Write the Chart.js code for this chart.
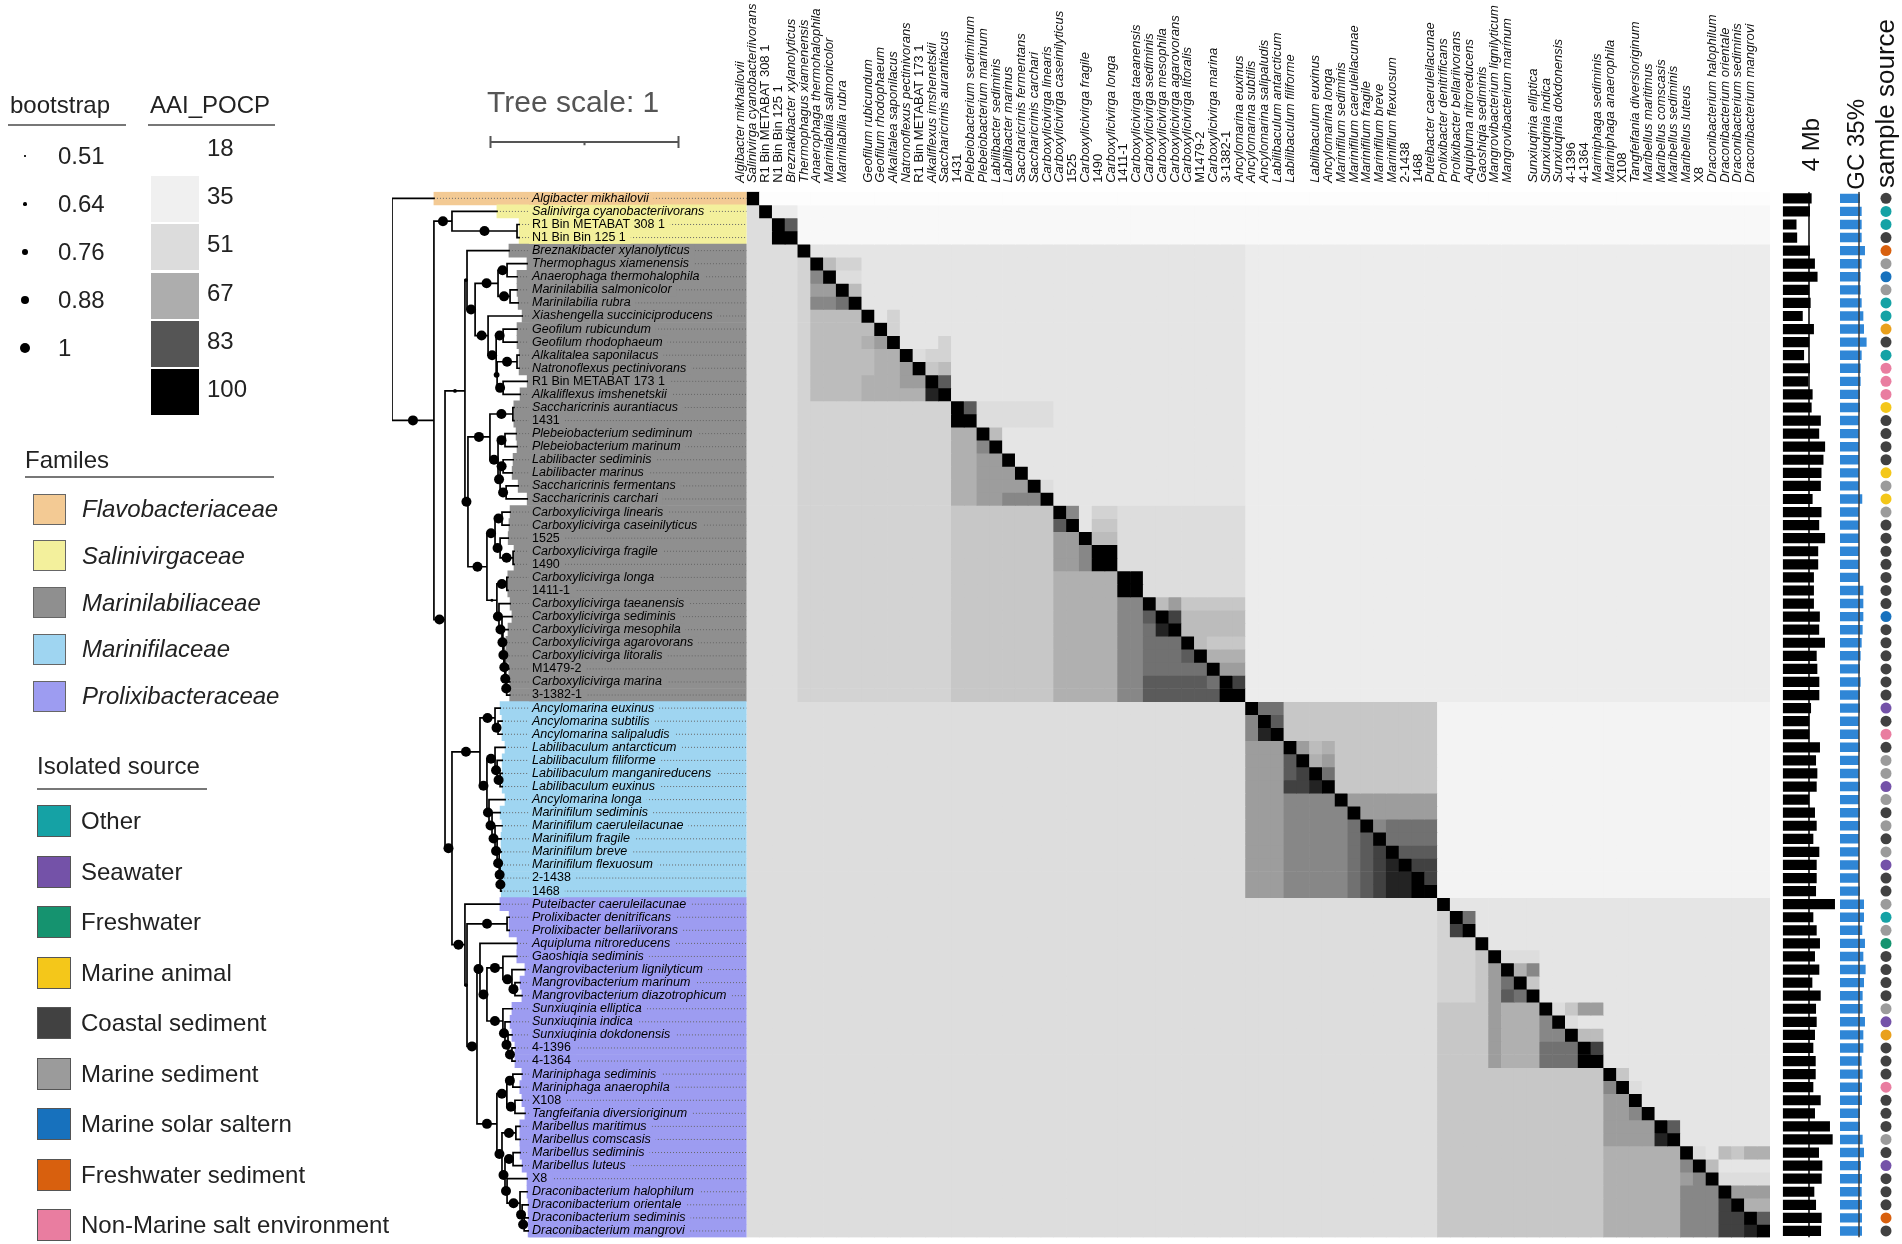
<!DOCTYPE html>
<html>
<head>
<meta charset="utf-8">
<script src="https://cdn.jsdelivr.net/npm/chart.js@4.4.1/dist/chart.umd.min.js"></script>
<style>
  body { margin: 0; background: #fff; font-family: "Liberation Sans", Arial, sans-serif; }
  #fig { position: relative; width: 1902px; height: 1244px; overflow: hidden; background: #fff; }
  #fig canvas { position: absolute; left: 0; top: 0; }
  .t { position: absolute; white-space: nowrap; color: #222; }
  .v { position: absolute; white-space: nowrap; color: #111; writing-mode: vertical-rl; transform: rotate(180deg); }
  .b { position: absolute; box-sizing: border-box; }
</style>
</head>
<body>
<div id="fig">
  <canvas id="boxes" width="1902" height="1244"></canvas>
  <canvas id="tree" width="1902" height="1244"></canvas>
  <canvas id="heat" width="1902" height="1244"></canvas>
  <canvas id="genome" width="1902" height="1244"></canvas>
  <canvas id="gc" width="1902" height="1244"></canvas>
  <canvas id="source" width="1902" height="1244"></canvas>
</div>
<script>
// ---- data ----
const species = [
  "Algibacter mikhailovii", "Salinivirga cyanobacteriivorans", "R1 Bin METABAT 308 1", "N1 Bin Bin 125 1",
  "Breznakibacter xylanolyticus", "Thermophagus xiamenensis", "Anaerophaga thermohalophila", "Marinilabilia salmonicolor",
  "Marinilabilia rubra", "Xiashengella succiniciproducens", "Geofilum rubicundum", "Geofilum rhodophaeum",
  "Alkalitalea saponilacus", "Natronoflexus pectinivorans", "R1 Bin METABAT 173 1", "Alkaliflexus imshenetskii",
  "Saccharicrinis aurantiacus", "1431", "Plebeiobacterium sediminum", "Plebeiobacterium marinum",
  "Labilibacter sediminis", "Labilibacter marinus", "Saccharicrinis fermentans", "Saccharicrinis carchari",
  "Carboxylicivirga linearis", "Carboxylicivirga caseinilyticus", "1525", "Carboxylicivirga fragile",
  "1490", "Carboxylicivirga longa", "1411-1", "Carboxylicivirga taeanensis",
  "Carboxylicivirga sediminis", "Carboxylicivirga mesophila", "Carboxylicivirga agarovorans", "Carboxylicivirga litoralis",
  "M1479-2", "Carboxylicivirga marina", "3-1382-1", "Ancylomarina euxinus",
  "Ancylomarina subtilis", "Ancylomarina salipaludis", "Labilibaculum antarcticum", "Labilibaculum filiforme",
  "Labilibaculum manganireducens", "Labilibaculum euxinus", "Ancylomarina longa", "Marinifilum sediminis",
  "Marinifilum caeruleilacunae", "Marinifilum fragile", "Marinifilum breve", "Marinifilum flexuosum",
  "2-1438", "1468", "Puteibacter caeruleilacunae", "Prolixibacter denitrificans",
  "Prolixibacter bellariivorans", "Aquipluma nitroreducens", "Gaoshiqia sediminis", "Mangrovibacterium lignilyticum",
  "Mangrovibacterium marinum", "Mangrovibacterium diazotrophicum", "Sunxiuqinia elliptica", "Sunxiuqinia indica",
  "Sunxiuqinia dokdonensis", "4-1396", "4-1364", "Mariniphaga sediminis",
  "Mariniphaga anaerophila", "X108", "Tangfeifania diversioriginum", "Maribellus maritimus",
  "Maribellus comscasis", "Maribellus sediminis", "Maribellus luteus", "X8",
  "Draconibacterium halophilum", "Draconibacterium orientale", "Draconibacterium sediminis", "Draconibacterium mangrovi"
];
// column labels that are left blank at the top of the matrix
const hiddenTopLabels = [9, 44, 61];

const familyNames = ["Flavobacteriaceae", "Salinivirgaceae", "Marinilabiliaceae", "Marinifilaceae", "Prolixibacteraceae"];
const familyColors = ["#f3ca94", "#f3f09c", "#8f8f8f", "#9fd5f1", "#9d9cf1"];
const familySizes = [1, 3, 35, 15, 26];

const sourceNames = ["Other", "Seawater", "Freshwater", "Marine animal", "Coastal sediment",
  "Marine sediment", "Marine solar saltern", "Freshwater sediment", "Non-Marine salt environment"];
const sourceColors = ["#15a2a5", "#7452a8", "#15936f", "#f4c71a", "#414141",
  "#9b9b9b", "#1771bd", "#d8600e", "#e97da0", "#e9a01c"];
const sampleSource = [
  4, 0, 0, 4, 7, 5, 6, 5, 0, 0,  9, 4, 0, 8, 8, 8, 3, 4, 4, 4,
  4, 3, 5, 3, 5, 4, 4, 4, 4, 4,  4, 4, 6, 4, 4, 4, 4, 4, 4, 1,
  4, 8, 4, 5, 5, 1, 5, 4, 5, 4,  5, 1, 4, 4, 5, 0, 5, 2, 4, 4,
  4, 4, 5, 1, 9, 4, 4, 4, 8, 4,  4, 4, 5, 4, 1, 4, 4, 4, 7, 4
];

const genomeMb = [
  4.4, 4.15, 2.1, 2.2, 4.15, 4.9, 5.3, 4.05, 4.25, 3.05,  4.75, 4.05, 3.25, 4.15, 3.9, 4.55, 4.4, 5.8, 5.55, 6.45,
  6.2, 5.9, 5.8, 4.55, 5.9, 5.55, 6.45, 5.4, 5.4, 4.75,  4.75, 4.75, 5.65, 5.55, 6.43, 5.17, 5.27, 5.57, 5.57, 4.31,
  4.05, 4.05, 5.67, 5.07, 5.27, 5.17, 4.05, 4.91, 5.17, 4.66,  5.57, 5.17, 5.17, 5.07, 7.95, 4.66, 5.17, 5.67, 4.91, 5.57,
  4.51, 5.78, 5.07, 5.17, 4.91, 4.66, 5.02, 5.02, 4.66, 5.78,  4.91, 7.19, 7.6, 5.52, 6.03, 5.93, 4.81, 5.07, 5.93, 5.83
];
const genomeRef = 4;

const gcPercent = [
  36.8, 39.9, 39.9, 39.9, 46, 39.9, 38, 38, 39.9, 43,  44.2, 49, 39.9, 38, 38, 36.8, 36.8, 35, 35, 35,
  35, 35, 35, 41, 35, 35, 35, 35, 35, 35,  43, 43, 43, 41.7, 39.9, 38, 36.8, 38, 36.8, 36.8,
  35, 35, 36.8, 35, 35, 36.8, 35, 36.8, 36.8, 35,  35, 35, 35, 36.8, 44.2, 44.2, 41, 46, 43, 47.2,
  44.2, 41.7, 41.7, 46, 43, 43, 39.9, 41.7, 40.5, 40.5,  36.8, 36.8, 41.7, 44.2, 38.6, 40.5, 39.9, 40.5, 40.5, 40.5
];
const gcRef = 35;

const bootstrapKeys = [0.51, 0.64, 0.76, 0.88, 1];
const aaiKeys = [18, 35, 51, 67, 83, 100];
const aaiGreys = [255, 240, 220, 173, 85, 0];

// AAI / POCP matrix, run-length coded per row: letter = level, number = cells
const levelKeys = "abcdefghijklmnopq";
const levelValues = [20, 26, 32, 38, 44, 50, 54, 58, 62, 66, 70, 74, 78, 82, 87, 93, 100];
const heatRows = [
  "q1 a79", "f1 q1 d2 b76", "f2 q1 n1 b76", "f2 q2 b76",
  "f4 q1 e34 d41", "f4 g1 q1 i1 g2 e30 d41", "f4 g1 l1 q1 f2 e30 d41", "f4 g1 k2 q1 i1 e30 d41",
  "f4 g1 l2 m1 q1 e30 d41", "f4 g1 i4 q1 e1 g1 e27 d41", "f4 g1 i5 q1 g1 e27 d41", "f4 g1 i4 j1 k1 q1 e3 g1 e23 d41",
  "f4 g1 i5 j2 q1 f1 g2 e23 d41", "f4 g1 i5 j2 k1 q1 h1 i1 e23 d41", "f4 g1 i4 j3 k2 q1 n1 e23 d41", "f4 g1 i4 j5 p1 q1 e23 d41",
  "f4 g12 q1 n1 f6 e15 d41", "f4 g12 q2 f6 e15 d41", "f4 g12 j2 q1 i1 e19 d41", "f4 g12 j2 l1 q1 e19 d41",
  "f4 g12 j2 k2 q1 e18 d41", "f4 g12 j2 k3 q1 e17 d41", "f4 g12 j2 k4 q1 f1 e15 d41", "f4 g12 j2 k2 l3 q1 e15 d41",
  "f4 g12 h8 q1 l1 e1 g2 f10 d41", "f4 g12 h8 n1 q1 e1 h2 f10 d41", "f4 g12 h8 k2 q1 i2 f10 d41", "f4 g12 h8 k2 l1 q2 f10 d41",
  "f4 g12 h8 k2 l1 q2 f10 d41", "f4 g12 h8 j5 q2 f8 d41", "f4 g12 h8 j5 q2 f8 d41", "f4 g12 h8 j5 l2 q1 i1 k1 h5 d41",
  "f4 g12 h8 j5 l2 n1 q1 o1 i5 d41", "f4 g12 h8 j5 l2 m1 p1 q1 i5 d41", "f4 g12 h8 j5 l2 m3 q1 i1 h3 d41", "f4 g12 h8 j5 l2 m3 n1 q1 j3 d41",
  "f4 g12 h8 j5 l2 m5 q1 k2 d41", "f4 g12 h8 j5 l2 n5 m1 q1 o1 d41", "f4 g12 h8 j5 l2 n6 q2 d41",
  "f39 q1 m2 h12 c26", "f39 l1 q1 n1 h12 c26", "f39 l1 p1 q1 h12 c26", "f39 k3 q1 k1 i1 j1 h8 c26",
  "f39 k3 n1 q1 j1 k1 h8 c26", "f39 k3 n1 o1 q1 m1 h8 c26", "f39 k3 o2 p1 q1 h8 c26", "f39 k3 l4 q1 k7 c26",
  "f39 k3 l5 q1 k6 c26", "f39 k3 l5 m1 q1 l1 m4 c26", "f39 k3 l5 m1 n1 q1 m4 c26", "f39 k3 l5 m1 n1 o1 q1 n3 c26",
  "f39 k3 l5 m1 n1 o1 p1 q1 o2 c26", "f39 k3 l5 m1 n1 o1 p2 q1 o1 c26", "f39 k3 l5 m1 n1 o1 p2 q2 c26",
  "f54 q1 e25", "f54 g1 q1 m1 e23", "f54 g1 o1 q1 e23", "f54 g3 q1 e22",
  "f54 g3 h1 q1 f3 e18", "f54 g3 h1 k1 q1 j1 l1 e18", "f54 g3 h1 k1 m1 q1 h1 e18", "f54 g3 h1 k1 n1 m1 q1 e18",
  "f54 h4 k1 j3 q1 f1 h1 k2 e13", "f54 h4 k1 j3 l1 q1 f1 e15", "f54 h4 k1 j3 l2 q1 i2 e13", "f54 h4 k1 j3 m3 q1 o1 e13",
  "f54 h4 k1 j3 m3 q2 e13", "f54 h13 q1 h1 e11", "f54 h13 l1 q1 f1 e10", "f54 h13 k2 q1 e10",
  "f54 h13 k2 l1 q1 e9", "f54 h13 k4 q1 n1 e7", "f54 h13 k4 p1 q1 e7", "f54 h13 j6 q1 f1 e1 i1 h1 j2",
  "f54 h13 j6 l1 q1 i1 e4", "f54 h13 j6 k1 l1 q1 f4", "f54 h13 j6 l3 q1 k3", "f54 h13 j6 l3 o1 q1 j2",
  "f54 h13 j6 l3 o2 q1 n1", "f54 h13 j6 l3 o2 p1 q1"
];

// tree: internal nodes [name, parent, branch length, bootstrap]; root is "R"
const internalNodes = [
  ["M", "R", 0.223, 1], ["S", "M", 0.096, 1], ["SB", "S", 0.346, 1], ["B", "M", 0.059, 1],
  ["ML", "B", 0.106, 0.64], ["ML1", "ML", 0.011, 0.64], ["ML1b", "ML1", 0.043, 1], ["TM", "ML1b", 0.122, 1],
  ["TA", "TM", 0.048, 1], ["MM", "TM", 0.064, 1], ["XG", "ML1b", 0.069, 1], ["XGb", "XG", 0.043, 1],
  ["GG", "XGb", 0.037, 1], ["AN", "XGb", 0.005, 0.76], ["AN1", "AN", 0.106, 1], ["AN2", "AN", 0.032, 1],
  ["ML2", "ML", 0.016, 1], ["SP", "ML2", 0.117, 1], ["SA", "SP", 0.122, 1], ["PL", "SP", 0.043, 1],
  ["PP", "PL", 0.037, 1], ["LS", "PL", 0.011, 1], ["LL", "LS", 0.016, 1], ["SS", "LS", 0.032, 1],
  ["CB", "ML2", 0.101, 1], ["CB1", "CB", 0.043, 1], ["CL", "CB1", 0.037, 1], ["CF", "CB1", 0.027, 1],
  ["FF", "CF", 0.069, 1], ["CB2", "CB", 0.053, 0.6], ["LO", "CB2", 0.053, 1], ["CT", "CB2", 0.011, 1],
  ["CT2", "CT", 0.016, 1], ["CT3", "CT2", 0.005, 1], ["CT4", "CT3", 0.005, 1], ["CT5", "CT4", 0.005, 1],
  ["CT6", "CT5", 0.005, 1], ["CT7", "CT6", 0.005, 1],
  ["C", "B", 0.037, 1], ["MF", "C", 0.149, 1], ["AG", "MF", 0.080, 1], ["AS", "AG", 0.016, 1],
  ["LM", "MF", 0.037, 1], ["LB", "LM", 0.043, 1], ["LB2", "LB", 0.011, 1], ["LB3", "LB2", 0.016, 1],
  ["MR", "LM", 0.011, 1], ["MR2", "MR", 0.016, 1], ["MR3", "MR2", 0.016, 1], ["MR4", "MR3", 0.011, 1],
  ["MR5", "MR4", 0.011, 1], ["MR6", "MR5", 0.005, 1], ["MR7", "MR6", 0.003, 1],
  ["PX", "C", 0.069, 1], ["PX2", "PX", 0.011, 0.64], ["PR", "PX2", 0.213, 1], ["PX3", "PX2", 0.053, 1],
  ["PX4", "PX3", 0.016, 1], ["GM", "PX4", 0.037, 1], ["GSM", "GM", 0.085, 1], ["MG", "GSM", 0.048, 1],
  ["MG2", "MG", 0.016, 1], ["SUN", "GM", 0.085, 1], ["SUN2", "SUN", 0.011, 1], ["SUN3", "SUN2", 0.016, 1],
  ["SUN4", "SUN3", 0.021, 1], ["PX5", "PX3", 0.106, 1], ["MP", "PX5", 0.053, 1], ["MP1", "MP", 0.032, 1],
  ["MP2", "MP", 0.043, 1], ["MB", "PX5", 0.027, 1], ["MB1", "MB", 0.074, 1], ["MB2", "MB", 0.016, 1],
  ["MB3", "MB2", 0.043, 1], ["MB4", "MB2", 0.011, 1], ["DR", "MB4", 0.069, 1], ["DR2", "DR", 0.011, 1],
  ["DR3", "DR2", 0.011, 1]
];
const leafParent = [
  "R", "S", "SB", "SB", "ML1", "TA", "TA", "MM", "MM", "XG",
  "GG", "GG", "AN1", "AN1", "AN2", "AN2", "SA", "SA", "PP", "PP",
  "LL", "LL", "SS", "SS", "CL", "CL", "CF", "FF", "FF", "LO",
  "LO", "CT", "CT2", "CT3", "CT4", "CT5", "CT6", "CT7", "CT7", "AG",
  "AS", "AS", "LB", "LB2", "LB3", "LB3", "MR", "MR2", "MR3", "MR4",
  "MR5", "MR6", "MR7", "MR7", "PX", "PR", "PR", "PX4", "GSM", "MG",
  "MG2", "MG2", "SUN", "SUN2", "SUN3", "SUN4", "SUN4", "MP1", "MP1", "MP2",
  "MP2", "MB1", "MB1", "MB3", "MB3", "MB4", "DR", "DR2", "DR3", "DR3"
];
const leafLength = [
  0.223, 0.239, 0.011, 0.011, 0.223, 0.106, 0.053, 0.037, 0.043, 0.181,
  0.074, 0.074, 0.011, 0.011, 0.128, 0.090, 0.005, 0.005, 0.059, 0.064,
  0.053, 0.048, 0.064, 0.112, 0.043, 0.037, 0.043, 0.005, 0.005, 0.005,
  0.005, 0.059, 0.053, 0.027, 0.011, 0.005, 0.016, 0.016, 0.016, 0.027,
  0.021, 0.021, 0.053, 0.027, 0.011, 0.011, 0.085, 0.043, 0.037, 0.021,
  0.011, 0.005, 0.003, 0.003, 0.186, 0.011, 0.011, 0.197, 0.074, 0.069,
  0.027, 0.037, 0.048, 0.027, 0.021, 0.016, 0.016, 0.048, 0.037, 0.037,
  0.053, 0.021, 0.021, 0.037, 0.048, 0.106, 0.037, 0.032, 0.021, 0.021
];
const treeScale = 1;

// ---- layout (page pixels) ----
const W = 1902, H = 1244;
const PX = { heatLeft: 746.7, heatRight: 1770, top: 191.8, bottom: 1237.5, treeRoot: 392, unit: 188, labelX: 532 };
const treeMax = (PX.heatLeft - PX.treeRoot) / PX.unit;
const FONT = "Liberation Sans";

const isSpecies = i => !/\d/.test(species[i]);
const dotRadius = s => 0.75 + (s - 0.51) * 8.67;

function grey(v) {
  for (let k = 1; k < aaiKeys.length; k++) {
    if (v <= aaiKeys[k]) {
      const t = (v - aaiKeys[k - 1]) / (aaiKeys[k] - aaiKeys[k - 1]);
      const g = Math.round(aaiGreys[k - 1] + t * (aaiGreys[k] - aaiGreys[k - 1]));
      return `rgb(${g},${g},${g})`;
    }
  }
  return "rgb(0,0,0)";
}

const matrix = heatRows.map((row, r) => {
  const out = [];
  row.trim().split(/\s+/).forEach(tok => {
    const v = levelValues[levelKeys.indexOf(tok[0])];
    for (let n = +tok.slice(1); n > 0; n--) out.push(v);
  });
  if (out.length !== species.length) console.warn("row", r, "has", out.length, "cells");
  return out;
});

const rowFamily = [];
familySizes.forEach((n, f) => { for (let k = 0; k < n; k++) rowFamily.push(f); });

// tree layout
const xOf = { R: 0 };
internalNodes.forEach(([n, p, len]) => { xOf[n] = xOf[p] + len; });
const leafX = leafParent.map((p, i) => xOf[p] + leafLength[i]);
const children = {};
const addChild = (p, c) => (children[p] = children[p] || []).push(c);
leafParent.forEach((p, i) => addChild(p, { leaf: i }));
internalNodes.forEach(([n, p]) => addChild(p, { node: n }));
const yOf = {};
function layoutY(name) {
  const ys = children[name].map(c => c.leaf !== undefined ? c.leaf : layoutY(c.node));
  yOf[name] = (Math.min(...ys) + Math.max(...ys)) / 2;
  return yOf[name];
}
layoutY("R");

const gap = () => ({ x: null, y: null });
const branchPts = [];
Object.keys(children).forEach(name => {
  const x0 = xOf[name];
  const cs = children[name].map(c => c.leaf !== undefined
    ? { x: leafX[c.leaf], y: c.leaf } : { x: xOf[c.node], y: yOf[c.node] });
  const ys = cs.map(c => c.y);
  branchPts.push({ x: x0, y: Math.min(...ys) }, { x: x0, y: Math.max(...ys) }, gap());
  cs.forEach(c => branchPts.push({ x: x0, y: c.y }, { x: c.x, y: c.y }, gap()));
});
const supportPts = internalNodes.map(([n, p, len, s]) => ({ x: (xOf[p] + xOf[n]) / 2, y: yOf[n], s }));

const barStart = (490.5 - PX.treeRoot) / PX.unit, barY = -4.31;
const scaleBarPts = [
  { x: barStart, y: barY }, { x: barStart + treeScale, y: barY }, gap(),
  { x: barStart, y: barY - 0.45 }, { x: barStart, y: barY + 0.45 }, gap(),
  { x: barStart + treeScale, y: barY - 0.45 }, { x: barStart + treeScale, y: barY + 0.45 }, gap(),
  { x: barStart + treeScale / 2, y: barY }, { x: barStart + treeScale / 2, y: barY + 0.25 }
];

const leaderPts = [];
species.forEach((_, i) => leaderPts.push({ x: leafX[i], y: i }, { x: treeMax, y: i }, gap()));

// ---- charts ----
const base = {
  responsive: false, animation: false, devicePixelRatio: 1, events: [],
  plugins: { legend: { display: false }, tooltip: { enabled: false } }
};
const rowScale = { type: "linear", min: -0.5, max: 79.5, reverse: true, offset: false, display: false };
const valueScale = (min, max) => ({ type: "linear", min, max, offset: false, display: false });
const rowPad = (left, right) => ({ left, right: W - right, top: PX.top, bottom: H - PX.bottom });
// keep axis boxes from reserving any room, so the plot area stays where the layout padding puts it
const noRoom = s => {
  if (s.isHorizontal()) s.height = s.options.position === "top" ? PX.top : 0;
  else s.width = 0;
  s.paddingTop = s.paddingBottom = s.paddingLeft = s.paddingRight = 0;
};

new Chart(document.getElementById("boxes"), {
  type: "bar",
  data: {
    datasets: [
      { type: "line", order: 0, data: leaderPts, borderColor: "#666", borderWidth: 1, borderDash: [1, 2],
        pointRadius: 0, spanGaps: false },
      { type: "bar", order: 1, indexAxis: "y", data: species.map((_, i) => ({ y: i, x: [leafX[i], treeMax] })),
        backgroundColor: species.map((_, i) => familyColors[rowFamily[i]]), borderWidth: 0,
        barPercentage: 1, categoryPercentage: 1 }
    ]
  },
  options: {
    ...base,
    layout: { padding: rowPad(PX.treeRoot, PX.heatLeft) },
    scales: {
      x: valueScale(0, treeMax),
      y: {
        type: "linear", min: -0.5, max: 79.5, reverse: true, offset: false, position: "left",
        grid: { display: false, drawTicks: false }, border: { display: false },
        afterBuildTicks: s => { s.ticks = species.map((_, i) => ({ value: i })); },
        afterFit: noRoom,
        ticks: {
          z: 1, mirror: true, padding: PX.labelX - PX.treeRoot, autoSkip: false, color: "#000",
          callback: v => species[v],
          font: ctx => ({ family: FONT, size: 12.5, lineHeight: 1, style: isSpecies(ctx.index) ? "italic" : "normal" }),
          showLabelBackdrop: true,
          backdropColor: ctx => familyColors[rowFamily[ctx.index]],
          backdropPadding: { left: 3, right: 5, top: 0, bottom: 0 }
        }
      }
    }
  }
});

new Chart(document.getElementById("tree"), {
  type: "scatter",
  data: {
    datasets: [
      { order: 0, data: supportPts, pointRadius: ctx => ctx.raw ? dotRadius(ctx.raw.s) : 0,
        pointBackgroundColor: "#000", pointBorderWidth: 0 },
      { order: 1, data: branchPts, showLine: true, borderColor: "#000", borderWidth: 1.7,
        borderCapStyle: "square", pointRadius: 0, spanGaps: false },
      { order: 2, data: scaleBarPts, showLine: true, borderColor: "#555", borderWidth: 2,
        pointRadius: 0, spanGaps: false, clip: false }
    ]
  },
  options: {
    ...base,
    layout: { padding: rowPad(PX.treeRoot, PX.heatLeft) },
    scales: { x: valueScale(0, treeMax), y: rowScale }
  }
});

new Chart(document.getElementById("heat"), {
  type: "bar",
  data: {
    labels: species,
    datasets: matrix.map(row => ({
      data: row.map(() => 1), backgroundColor: row.map(grey), borderWidth: 0,
      barPercentage: 1, categoryPercentage: 1
    }))
  },
  options: {
    ...base,
    layout: { padding: { left: PX.heatLeft, right: W - PX.heatRight, top: 0, bottom: H - PX.bottom } },
    scales: {
      x: {
        type: "category", stacked: true, position: "top", offset: true,
        grid: { display: false, drawTicks: false }, border: { display: false },
        afterFit: noRoom,
        ticks: {
          autoSkip: false, maxRotation: 90, minRotation: 90, padding: 9, color: "#111",
          callback: (v, i) => hiddenTopLabels.includes(i) ? "" : species[i],
          font: ctx => ({ family: FONT, size: 13, lineHeight: 1, style: isSpecies(ctx.index) ? "italic" : "normal" })
        }
      },
      y: { type: "linear", stacked: true, min: 0, max: species.length, reverse: true, offset: false, display: false }
    }
  }
});

const genomeLeft = 1782.7, genomeRight = 1840, pxPerMb = 6.575;
new Chart(document.getElementById("genome"), {
  type: "bar",
  data: {
    datasets: [
      { type: "line", order: 0, data: [{ x: genomeRef, y: -0.5 }, { x: genomeRef, y: 79.5 }],
        borderColor: "#000", borderWidth: 1.5, pointRadius: 0 },
      { type: "bar", order: 1, indexAxis: "y", data: genomeMb.map((v, i) => ({ x: v, y: i })),
        backgroundColor: "#000", borderWidth: 0, barPercentage: 0.78, categoryPercentage: 1 }
    ]
  },
  options: {
    ...base,
    layout: { padding: rowPad(genomeLeft, genomeRight) },
    scales: { x: valueScale(0, (genomeRight - genomeLeft) / pxPerMb), y: rowScale }
  }
});

const gcLeft = 1840, gcRight = 1874, pxPerGc = 19 / 35;
new Chart(document.getElementById("gc"), {
  type: "bar",
  data: {
    datasets: [
      { type: "line", order: 0, data: [{ x: gcRef, y: -0.5 }, { x: gcRef, y: 79.5 }],
        borderColor: "#3a3a3a", borderWidth: 1.5, pointRadius: 0 },
      { type: "bar", order: 1, indexAxis: "y", data: gcPercent.map((v, i) => ({ x: v, y: i })),
        backgroundColor: "#2f86d6", borderWidth: 0, barPercentage: 0.72, categoryPercentage: 1 }
    ]
  },
  options: {
    ...base,
    layout: { padding: rowPad(gcLeft, gcRight) },
    scales: { x: valueScale(0, (gcRight - gcLeft) / pxPerGc), y: rowScale }
  }
});

new Chart(document.getElementById("source"), {
  type: "scatter",
  data: {
    datasets: [{
      data: sampleSource.map((s, i) => ({ x: 0, y: i })),
      pointBackgroundColor: sampleSource.map(s => sourceColors[s]),
      pointBorderWidth: 0, pointRadius: 5.5
    }]
  },
  options: {
    ...base,
    layout: { padding: rowPad(1880, 1892) },
    scales: { x: valueScale(-1, 1), y: rowScale }
  }
});

// ---- legends and titles ----
const fig = document.getElementById("fig");
function addText(txt, left, top, size, extra) {
  const d = document.createElement("div");
  d.className = "t";
  d.textContent = txt;
  Object.assign(d.style, { left: left + "px", top: top + "px", fontSize: size + "px", lineHeight: size + "px" }, extra || {});
  fig.appendChild(d);
}
function addBox(left, top, w, h, color, extra) {
  const d = document.createElement("div");
  d.className = "b";
  Object.assign(d.style, { left: left + "px", top: top + "px", width: w + "px", height: h + "px", background: color }, extra || {});
  fig.appendChild(d);
}
function addVText(txt, centerX, startY, size) {
  const d = document.createElement("div");
  d.className = "v";
  d.textContent = txt;
  Object.assign(d.style, { fontSize: size + "px", lineHeight: size + "px",
    left: (centerX - size / 2) + "px", bottom: (H - startY) + "px" });
  fig.appendChild(d);
}

addText("bootstrap", 10, 93, 24);
addBox(8, 124, 118, 2, "#777");
bootstrapKeys.forEach((b, k) => {
  const cy = 156 + k * 48, r = dotRadius(b);
  addBox(25 - r, cy - r, 2 * r, 2 * r, "#000", { borderRadius: "50%" });
  addText(String(b), 58, cy - 12, 24);
});

addText("AAI_POCP", 150, 93, 24);
addBox(148, 124, 127, 2, "#777");
aaiKeys.forEach((v, k) => {
  const top = 128 + k * 48.2;
  addBox(151, top, 48, 46, grey(v));
  addText(String(v), 207, top + 8, 24);
});

addText("Familes", 25, 448, 24);
addBox(25, 476, 249, 2, "#777");
familyNames.forEach((n, k) => {
  const cy = 509 + k * 46.8;
  addBox(33, cy - 15.5, 33, 31, familyColors[k], { border: "1px solid #666" });
  addText(n, 82, cy - 12, 24, { fontStyle: "italic" });
});

addText("Isolated source", 37, 754, 24);
addBox(37, 788, 170, 2, "#777");
sourceNames.forEach((n, k) => {
  const cy = 821 + k * 50.5;
  addBox(37, cy - 16, 34, 32, sourceColors[k], { border: "1px solid #555" });
  addText(n, 81, cy - 12, 24);
});

addText("Tree scale: " + treeScale, 487, 87, 30, { color: "#555" });
addVText(genomeRef + " Mb", 1811, 171, 24);
addVText("GC " + gcRef + "%", 1856, 190, 24);
addVText("sample source", 1885, 188, 26);
</script>
</body>
</html>
